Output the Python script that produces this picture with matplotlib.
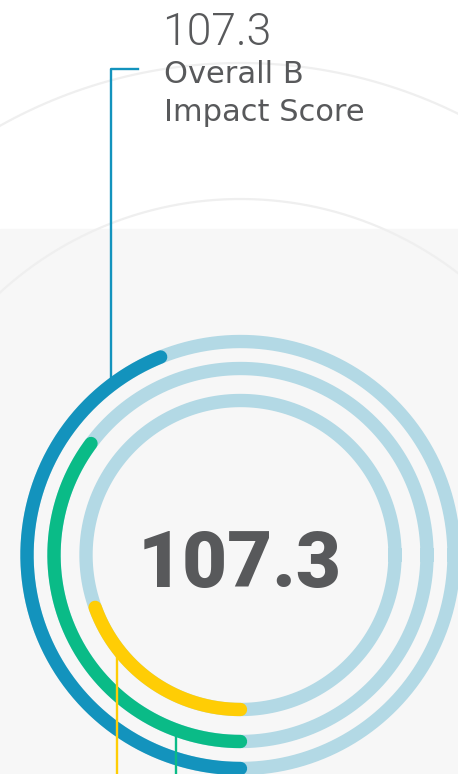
import matplotlib.pyplot as plt
import numpy as np

# data
overall_score = 107.3
score_label = ['Overall B', 'Impact Score']
ring_fill = [0.439, 0.352, 0.195]      # share of each ring that is filled (outer -> inner)
ring_radius = [213.5, 186.5, 154.5]
ring_colors = ['#1393bd', '#0abb87', '#ffcd05']
track_color = '#b3d9e5'
text_color = '#58595b'

cx, cy = 240.5, 555.0

fig = plt.figure(figsize=(4.58, 7.74), dpi=100)
ax = fig.add_axes([0, 0, 1, 1])
ax.set_xlim(0, 458)
ax.set_ylim(774, 0)
ax.axis('off')
fig.patch.set_facecolor('white')

# grey lower panel
ax.axhspan(229, 774, color='#f7f7f7', zorder=0)

# faint decorative circles
t = np.linspace(0, 2 * np.pi, 721)
for r in [492, 356]:
    ax.plot(cx + r * np.cos(t), cy - r * np.sin(t), color='#efefef', lw=1.6, zorder=1)


def arc(r, a0, a1, **kw):
    th = np.radians(np.linspace(a0, a1, 400))
    ax.plot(cx + r * np.cos(th), cy - r * np.sin(th), **kw)


# rings: light track + filled arc from the bottom, clockwise
for r, frac, col in zip(ring_radius, ring_fill, ring_colors):
    arc(r, 0, 360, color=track_color, lw=9.6, zorder=2)
    arc(r, 270, 270 - 360 * frac, color=col, lw=9.6, solid_capstyle='round', zorder=3)

# leader lines
def ring_y(r, x):
    return cy - np.sqrt(r ** 2 - (x - cx) ** 2), cy + np.sqrt(r ** 2 - (x - cx) ** 2)

lx = 111
ax.plot([138, lx, lx], [69, 69, ring_y(ring_radius[0], lx)[0]],
        color=ring_colors[0], lw=1.7, zorder=4)
gx = 175.7
ax.plot([gx, gx], [ring_y(ring_radius[1], gx)[1], 774], color=ring_colors[1], lw=1.7, zorder=4)
yx = 116.5
ax.plot([yx, yx], [ring_y(ring_radius[2], yx)[1], 774], color=ring_colors[2], lw=1.7, zorder=4)

# texts
ax.text(162, 45, f'{overall_score}', fontsize=32, family='Roboto', fontweight=300,
        color=text_color, va='baseline', ha='left', zorder=5)
ax.text(164, 83, score_label[0], fontsize=22, family='DejaVu Sans',
        color=text_color, va='baseline', ha='left', zorder=5)
ax.text(164, 121, score_label[1], fontsize=22, family='DejaVu Sans',
        color=text_color, va='baseline', ha='left', zorder=5)
ax.text(239.5, 587, f'{overall_score}', fontsize=56, family='Roboto', fontweight='black',
        color=text_color, va='baseline', ha='center', zorder=5)

fig.savefig('out.png', dpi=100)
